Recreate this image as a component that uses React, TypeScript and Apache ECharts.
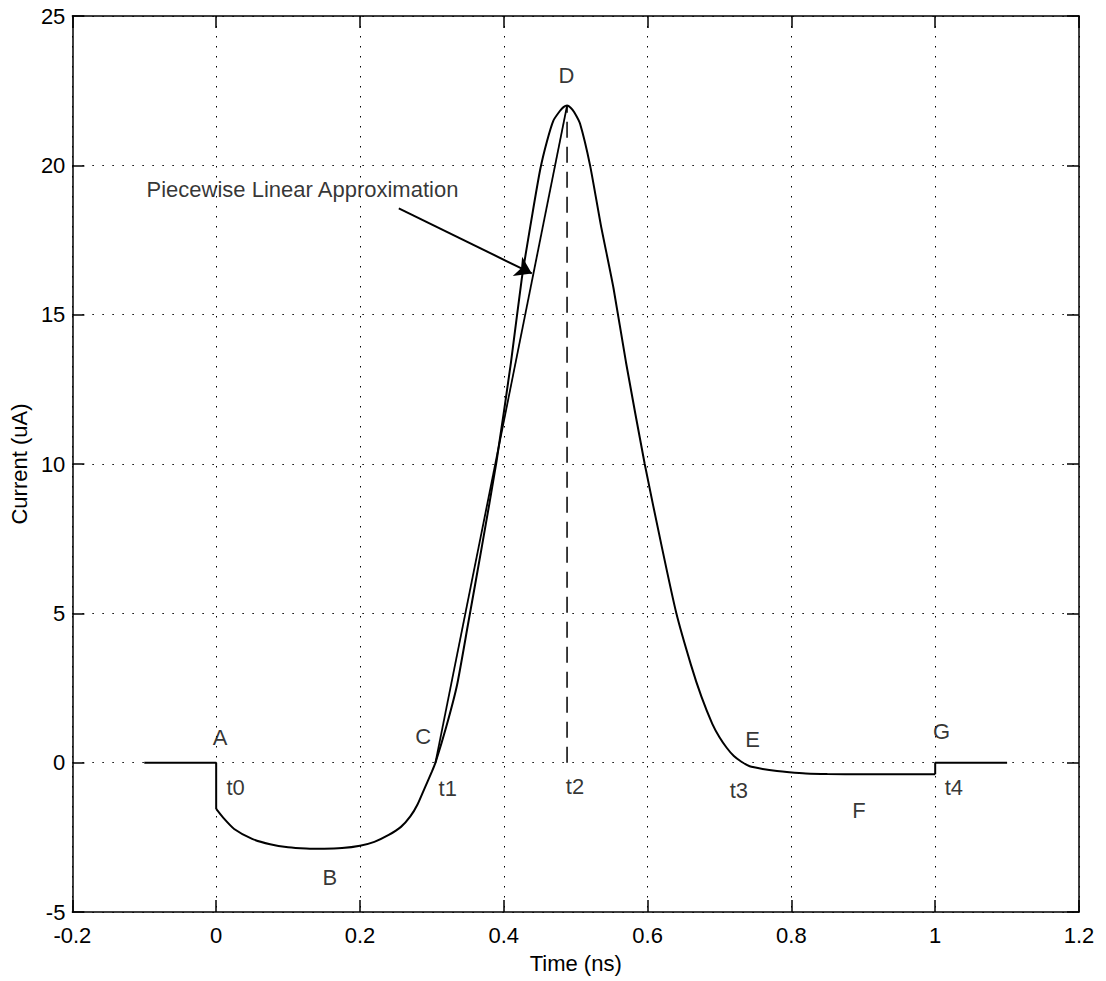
import React, { useEffect, useRef } from "react";
import * as echarts from "echarts";

// Measured current pulse (time in ns, current in uA), in three pieces
// Before t0: flat at zero, then step down at t0
const PRE_T = [-0.1, 0, 0];
const PRE_I = [0, 0, -1.55];
// Main pulse from t0 to t4
const PULSE_T = [
  0, 0.01, 0.025, 0.05, 0.075, 0.1, 0.125, 0.15, 0.175, 0.2, 0.22, 0.24, 0.257,
  0.27, 0.28, 0.29, 0.3, 0.305, 0.32, 0.335, 0.35, 0.37, 0.39, 0.41, 0.425, 0.44, 0.451,
  0.46, 0.469, 0.478, 0.483, 0.488, 0.493, 0.498, 0.506, 0.52, 0.535, 0.5525, 0.57, 0.596,
  0.62, 0.64, 0.66, 0.675, 0.69, 0.7, 0.71, 0.72, 0.73, 0.742, 0.76, 0.78, 0.797, 0.82,
  0.85, 0.9, 0.95, 1.0,
];
const PULSE_I = [
  -1.55, -1.85, -2.22, -2.55, -2.73, -2.83, -2.87, -2.88, -2.86, -2.78, -2.65, -2.42,
  -2.15, -1.8, -1.4, -0.85, -0.3, 0, 1.2, 2.6, 4.6, 7.3, 10.1, 13.4, 16.2, 18.4, 19.9,
  20.8, 21.5, 21.82, 21.95, 22.0, 21.93, 21.78, 21.4, 20.0, 18.0, 15.9, 13.4, 10.0,
  7.2, 5.0, 3.3, 2.2, 1.3, 0.85, 0.5, 0.22, 0.04, -0.12, -0.21, -0.28, -0.32, -0.36,
  -0.38, -0.39, -0.39, -0.39,
];
// After t4: step back to zero, flat
const POST_T = [1.0, 1.0, 1.1];
const POST_I = [-0.39, 0, 0];

// Piecewise linear approximation segment (C -> D)
const LINEAR_T = [0.305, 0.488];
const LINEAR_I = [0, 22];

// Dashed marker at t2 (peak time)
const PEAK_T = [0.488, 0.488];
const PEAK_I = [0, 22];

// Annotation arrow (start, tip)
const ARROW_T = [0.254, 0.439];
const ARROW_I = [18.56, 16.38];

// Text annotations
const LABEL_TEXT = ["A", "t0", "B", "C", "t1", "D", "t2", "E", "t3", "F", "G", "t4", "Piecewise Linear Approximation"];
const LABEL_T = [0.0055, 0.027, 0.158, 0.288, 0.322, 0.487, 0.499, 0.746, 0.727, 0.894, 1.009, 1.026, 0.12];
const LABEL_I = [0.85, -0.82, -3.83, 0.86, -0.86, 23.0, -0.79, 0.78, -0.92, -1.59, 1.03, -0.83, 19.19];

// Axes
const X_MIN = -0.2;
const X_MAX = 1.2;
const X_STEP = 0.2;
const Y_MIN = -5;
const Y_MAX = 25;
const Y_STEP = 5;
const X_NAME = "Time (ns)";
const Y_NAME = "Current (uA)";

const FONT = "'Liberation Sans', Arial, Helvetica, sans-serif";

function fmt(v: number): string {
  const r = Math.round(v * 10) / 10;
  return String(r === 0 ? 0 : r);
}

export default function App() {
  const ref = useRef<HTMLDivElement>(null);

  useEffect(() => {
    if (!ref.current) return;
    const chart = echarts.init(ref.current, undefined, { renderer: "svg" });

    const zip = (a: number[], b: number[]) => a.map((v, i) => [v, b[i]]);
    const black = "#000";
    const gridDots = { color: black, width: 1, type: [1.5, 8.5] as number[] };

    const baseAxisX = {
      type: "value" as const,
      min: X_MIN,
      max: X_MAX,
      interval: X_STEP,
      axisLine: { show: true, onZero: false, lineStyle: { color: black, width: 1.5 } },
      axisTick: { show: true, inside: true, length: 12, lineStyle: { color: black, width: 1.5 } },
    };
    const baseAxisY = {
      type: "value" as const,
      min: Y_MIN,
      max: Y_MAX,
      interval: Y_STEP,
      axisLine: { show: true, onZero: false, lineStyle: { color: black, width: 1.5 } },
      axisTick: { show: true, inside: true, length: 12, lineStyle: { color: black, width: 1.5 } },
    };

    const lineSeries = (name: string, t: number[], i: number[], extra: any = {}) => ({
      name,
      type: "line",
      data: zip(t, i),
      showSymbol: false,
      symbol: "none",
      silent: true,
      z: 5,
      lineStyle: { color: black, width: 2 },
      ...extra,
    });

    chart.setOption({
      animation: false,
      backgroundColor: "#fff",
      textStyle: { fontFamily: FONT, color: black },
      grid: { left: 70, top: 16, right: 27, bottom: 69, containLabel: false },
      xAxis: [
        {
          ...baseAxisX,
          position: "bottom",
          name: X_NAME,
          nameLocation: "middle",
          nameGap: 40,
          nameTextStyle: { fontSize: 22, color: black, fontFamily: FONT },
          axisLabel: { show: true, fontSize: 22, color: black, margin: 12, fontFamily: FONT, formatter: fmt },
          splitLine: { show: true, lineStyle: gridDots },
        },
        {
          ...baseAxisX,
          position: "top",
          axisLabel: { show: false },
          splitLine: { show: false },
        },
      ],
      yAxis: [
        {
          ...baseAxisY,
          position: "left",
          name: Y_NAME,
          nameLocation: "middle",
          nameGap: 40,
          nameRotate: 90,
          nameTextStyle: { fontSize: 22, color: black, fontFamily: FONT },
          axisLabel: { show: true, fontSize: 22, color: black, margin: 7, fontFamily: FONT, formatter: fmt },
          splitLine: { show: true, lineStyle: gridDots },
        },
        {
          ...baseAxisY,
          position: "right",
          axisLabel: { show: false },
          splitLine: { show: false },
        },
      ],
      series: [
        lineSeries("pre", PRE_T, PRE_I),
        lineSeries("pulse", PULSE_T, PULSE_I, { smooth: 0.2 }),
        lineSeries("post", POST_T, POST_I),
        lineSeries("linear", LINEAR_T, LINEAR_I, { lineStyle: { color: black, width: 1.8 } }),
        lineSeries("peak", PEAK_T, PEAK_I, { z: 4, lineStyle: { color: black, width: 1.5, type: [16, 9] } }),
        {
          name: "arrow",
          type: "line",
          data: [],
          silent: true,
          markLine: {
            silent: true,
            animation: false,
            label: { show: false },
            emphasis: { disabled: true },
            lineStyle: { color: black, width: 2, type: "solid" },
            data: [
              [
                { coord: [ARROW_T[0], ARROW_I[0]], symbol: "none" },
                { coord: [ARROW_T[1], ARROW_I[1]], symbol: "arrow", symbolSize: 16 },
              ],
            ],
          },
        },
        {
          name: "labels",
          type: "scatter",
          symbolSize: 0.1,
          itemStyle: { color: "rgba(0,0,0,0)" },
          silent: true,
          z: 6,
          data: LABEL_TEXT.map((t, i) => ({ name: t, value: [LABEL_T[i], LABEL_I[i]] })),
          label: {
            show: true,
            position: "inside",
            formatter: "{b}",
            fontSize: 22,
            color: black,
            fontFamily: FONT,
            align: "center",
            verticalAlign: "middle",
          },
        },
      ],
    });

    return () => chart.dispose();
  }, []);

  return (
    <div
      ref={ref}
      style={{ position: "fixed", left: 0, top: 0, width: 1106, height: 981, background: "#fff" }}
    />
  );
}
